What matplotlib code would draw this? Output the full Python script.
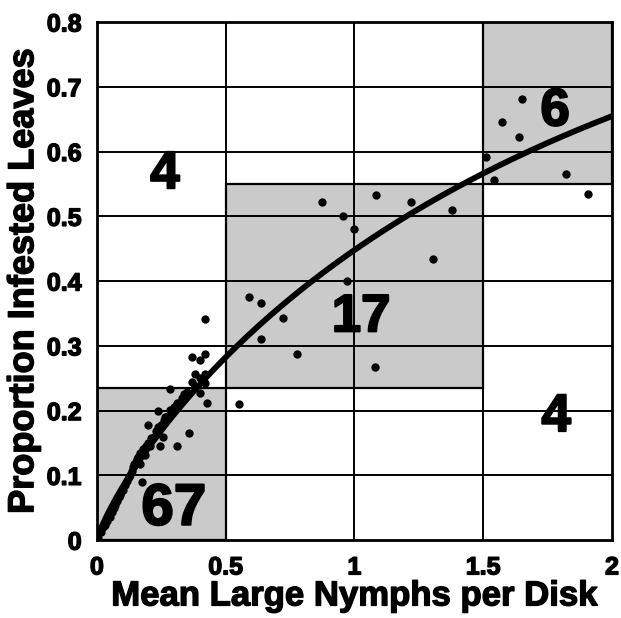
import numpy as np
import matplotlib
matplotlib.use("Agg")
import matplotlib.pyplot as plt
from matplotlib.patches import Rectangle
import matplotlib.patheffects as pe

# ---- data ----
pts_x = [0.005,0.015,0.025,0.031,0.040,0.050,0.058,0.065,0.070,0.078,0.085,0.089,0.095,0.102,
         0.110,0.118,0.125,0.128,0.135,0.141,0.145,0.150,0.155,0.160,0.167,0.167,0.174,0.180,
         0.186,0.190,0.199,0.206,0.210,0.220,0.230,0.238,0.245,0.250,0.258,0.260,0.264,0.270,
         0.283,0.238,0.199,0.312,0.290,0.300,0.310,0.320,0.330,0.359,0.283,0.340,0.350,0.368,
         0.380,0.400,0.426,0.419,0.400,0.381,0.419,0.400,0.368,0.419,0.419,
         0.551,
         0.875,1.083,1.218,1.377,0.957,0.998,1.306,0.973,0.590,0.636,0.724,0.636,0.778,1.080,
         1.649,1.574,1.640,1.509,1.542,1.821,1.908]
pts_y = [0.003,0.012,0.020,0.024,0.030,0.036,0.044,0.050,0.055,0.060,0.066,0.069,0.074,0.078,
         0.085,0.092,0.097,0.101,0.107,0.113,0.118,0.120,0.125,0.128,0.118,0.135,0.090,0.140,
         0.131,0.146,0.150,0.146,0.158,0.160,0.168,0.175,0.146,0.178,0.160,0.185,0.190,0.190,
         0.201,0.200,0.178,0.146,0.196,0.205,0.212,0.212,0.220,0.166,0.234,0.226,0.228,0.244,
         0.238,0.227,0.211,0.242,0.250,0.256,0.256,0.278,0.282,0.288,0.342,
         0.210,
         0.522,0.533,0.522,0.510,0.501,0.481,0.434,0.400,0.376,0.366,0.343,0.311,0.288,0.268,
         0.681,0.645,0.623,0.592,0.556,0.566,0.534]

# fitted curve y = 1 - exp(-c * x^b)
fit_c = 0.594
fit_b = 0.84

# shaded boxes
box_x0 = [0.0, 0.5, 1.5]
box_x1 = [0.5, 1.5, 2.0]
box_y0 = [0.0, 0.235, 0.55]
box_y1 = [0.235, 0.55, 0.80]

# region count labels
lab_text = ["4", "17", "6", "4", "67"]
lab_x = [0.264, 1.026, 1.779, 1.783, 0.299]
lab_y = [0.565, 0.344, 0.662, 0.19, 0.047]
lab_size = [38, 38, 38, 38, 42]

xticks = [0, 0.5, 1, 1.5, 2]
xticklabels = ["0", "0.5", "1", "1.5", "2"]
yticks = [0, 0.1, 0.2, 0.3, 0.4, 0.5, 0.6, 0.7, 0.8]
yticklabels = ["0", "0.1", "0.2", "0.3", "0.4", "0.5", "0.6", "0.7", "0.8"]

plt.rcParams['font.family'] = ['Liberation Sans', 'DejaVu Sans']
heavy = [pe.withStroke(linewidth=1.0, foreground='black')]

fig = plt.figure(figsize=(6.21, 6.18), dpi=100)
ax = fig.add_axes([0.156, 0.126, 0.9855 - 0.156, 0.9644 - 0.126])

for x0, x1, y0, y1 in zip(box_x0, box_x1, box_y0, box_y1):
    ax.add_patch(Rectangle((x0, y0), x1 - x0, y1 - y0, facecolor='#cacaca',
                           edgecolor='black', linewidth=1.6, zorder=1))

for t in xticks[1:-1]:
    ax.axvline(t, color='black', linewidth=1.4, zorder=2)
for t in yticks[1:-1]:
    ax.axhline(t, color='black', linewidth=1.4, zorder=2)

xc = np.linspace(0, 2, 300)
ax.plot(xc, 1 - np.exp(-fit_c * xc ** fit_b), color='black', linewidth=4.2, zorder=4,
        solid_capstyle='round')

ax.scatter(pts_x, pts_y, s=36, color='black', zorder=5, linewidths=0)

for t, x, y, fs in zip(lab_text, lab_x, lab_y, lab_size):
    ax.text(x, y, t, fontsize=fs, fontweight='bold', ha='center', va='center', zorder=6,
            path_effects=[pe.withStroke(linewidth=1.5, foreground='black')])

ax.set_xlim(0, 2)
ax.set_ylim(0, 0.8)
ax.set_xticks(xticks)
ax.set_xticklabels(xticklabels)
ax.set_yticks(yticks)
ax.set_yticklabels(yticklabels)
ax.tick_params(length=0, labelsize=18, pad=11)
for lbl in ax.get_xticklabels() + ax.get_yticklabels():
    lbl.set_fontweight('bold')
    lbl.set_path_effects(heavy)
for s in ax.spines.values():
    s.set_linewidth(2.0)
    s.set_zorder(7)

ax.set_xlabel("Mean Large Nymphs per Disk", fontsize=25, fontweight='bold', labelpad=0,
              path_effects=heavy)
ax.set_ylabel("Proportion Infested Leaves", fontsize=26, fontweight='bold', labelpad=4,
              path_effects=heavy)

fig.savefig("out.png", dpi=100)
